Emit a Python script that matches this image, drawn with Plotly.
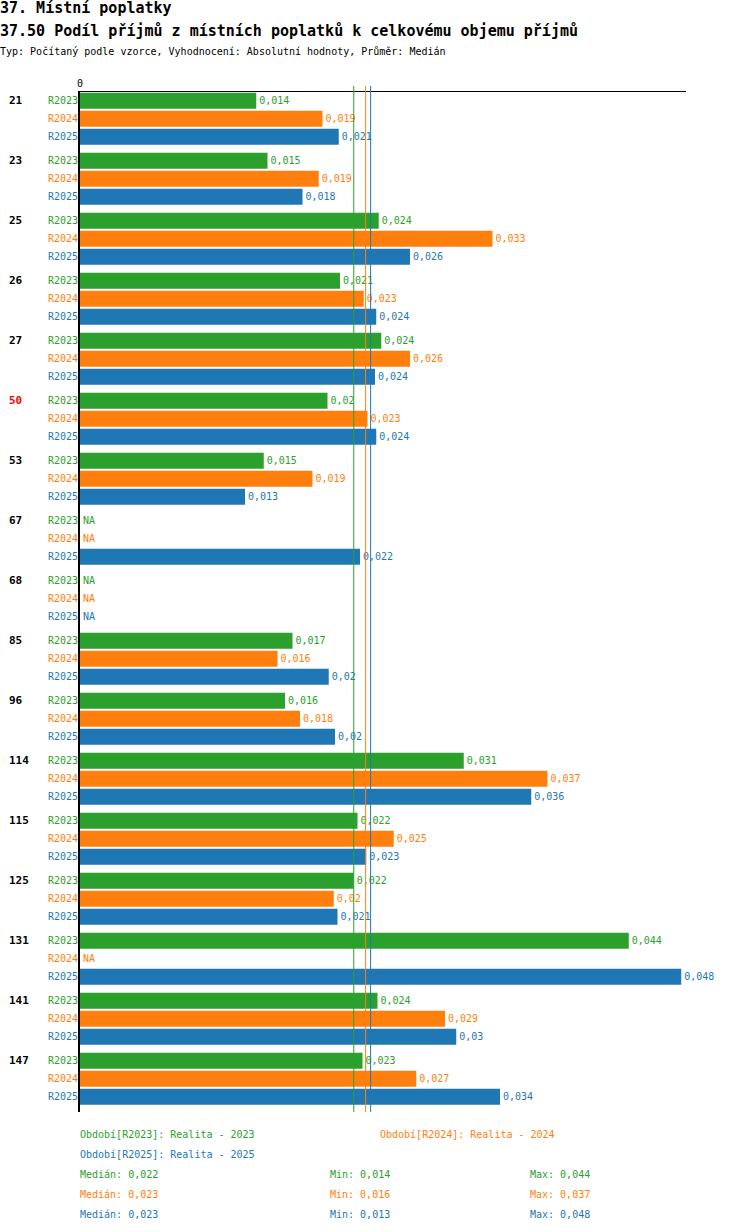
import statistics
import plotly.graph_objects as go

# ---------------- data ----------------
categories = ["21", "23", "25", "26", "27", "50", "53", "67", "68", "85",
              "96", "114", "115", "125", "131", "141", "147"]
highlight_category = "50"
series_names = ["R2023", "R2024", "R2025"]
series_legend = ["Období[R2023]: Realita - 2023",
                 "Období[R2024]: Realita - 2024",
                 "Období[R2025]: Realita - 2025"]
r2023 = [0.0141, 0.0150, 0.0239, 0.0208, 0.0241, 0.0198, 0.0147, None, None,
         0.0170, 0.0164, 0.0307, 0.0222, 0.0219, 0.0439, 0.0238, 0.0226]
r2024 = [0.0194, 0.0191, 0.0330, 0.0227, 0.0264, 0.0230, 0.0186, None, None,
         0.0158, 0.0176, 0.0374, 0.0251, 0.0203, None, 0.0292, 0.0269]
r2025 = [0.0207, 0.0178, 0.0264, 0.0237, 0.0236, 0.0237, 0.0132, 0.0224, None,
         0.0199, 0.0204, 0.0361, 0.0229, 0.0206, 0.0481, 0.0301, 0.0336]
title_1 = "37. Místní poplatky"
title_2 = "37.50 Podíl příjmů z místních poplatků k celkovému objemu příjmů"
subtitle = "Typ: Počítaný podle vzorce, Vyhodnocení: Absolutní hodnoty, Průměr: Medián"

# ---------------- style ----------------
colors = ["#2ca02c", "#ff7f0e", "#1f77b4"]
FONT = "DejaVu Sans Mono"
W, H = 750, 1232
ML, MR, MT, MB = 80, 64, 92, 120
X_MAX = 0.04848
PAD = 2  # annotation box padding


def fmt(v):
    if v is None:
        return "NA"
    s = f"{v:.3f}".rstrip("0").rstrip(".")
    return s.replace(".", ",")


series = [r2023, r2024, r2025]

fig = go.Figure()
for name, vals, col in zip(series_names, series, colors):
    fig.add_trace(go.Bar(
        name=name,
        y=categories,
        x=[0 if v is None else v for v in vals],
        orientation="h",
        marker=dict(color=col, line=dict(width=0)),
        text=[fmt(v) for v in vals],
        textposition="outside",
        textfont=dict(family=FONT, size=10, color=col),
        cliponaxis=False,
        showlegend=False,
        hoverinfo="skip",
    ))

shapes = []
for vals, col in zip(series, colors):
    med = statistics.median([v for v in vals if v is not None])
    shapes.append(dict(type="line", xref="x", yref="paper", x0=med, x1=med,
                       y0=0, y1=1 + 6 / (H - MT - MB),
                       line=dict(color=col, width=1), layer="above"))

ann = []


def px_ann(text, px, py, size=10, color="black", bold=False):
    if bold:
        text = f"<b>{text}</b>"
    ann.append(dict(text=text, xref="paper", yref="paper", x=0, y=1,
                    xshift=px - ML - PAD, yshift=MT - py, xanchor="left",
                    yanchor="middle", showarrow=False,
                    font=dict(family=FONT, size=size, color=color)))


px_ann(title_1, 0, 8, size=15, bold=True)
px_ann(title_2, 0, 30.5, size=15, bold=True)
px_ann(subtitle, 0, 51.5, size=10)

offsets = [18, 0, -18]
for i, cat in enumerate(categories):
    ann.append(dict(text=f"<b>{cat}</b>", xref="paper", yref="y", x=0, y=i,
                    xshift=9 - ML - PAD, yshift=offsets[0], xanchor="left",
                    yanchor="middle", showarrow=False,
                    font=dict(family=FONT, size=11,
                              color="#ff0000" if cat == highlight_category else "black")))
    for name, col, off in zip(series_names, colors, offsets):
        ann.append(dict(text=name, xref="paper", yref="y", x=0, y=i,
                        xshift=-2 + PAD, yshift=off, xanchor="right",
                        yanchor="middle", showarrow=False,
                        font=dict(family=FONT, size=10, color=col)))

# footer legend
px_ann(series_legend[0], 80, 1134, color=colors[0])
px_ann(series_legend[1], 380, 1134, color=colors[1])
px_ann(series_legend[2], 80, 1154, color=colors[2])
for i, (vals, col) in enumerate(zip(series, colors)):
    vv = [v for v in vals if v is not None]
    py = 1174 + 20 * i
    px_ann("Medián: " + fmt(statistics.median(vv)), 80, py, color=col)
    px_ann("Min: " + fmt(min(vv)), 330, py, color=col)
    px_ann("Max: " + fmt(max(vv)), 530, py, color=col)

fig.update_layout(
    width=W, height=H,
    margin=dict(l=ML, r=MR, t=MT, b=MB, pad=0),
    paper_bgcolor="white", plot_bgcolor="white",
    barmode="group", bargap=0.1, bargroupgap=0.111,
    font=dict(family=FONT, size=10, color="black"),
    hovermode=False,
    xaxis=dict(side="top", range=[0, X_MAX], showline=True, linecolor="black",
               linewidth=1, showgrid=False, zeroline=False, tickvals=[0],
               ticktext=["0"], ticks="", tickfont=dict(family=FONT, size=10)),
    yaxis=dict(type="category", categoryorder="array", categoryarray=categories,
               range=[len(categories) - 0.445, -0.445], showline=True,
               linecolor="black", linewidth=2, showgrid=False,
               showticklabels=False, ticks="", zeroline=False),
    shapes=shapes,
    annotations=ann,
)

fig.write_html("out.html", config={"displayModeBar": False},
               post_script="document.body.style.margin='0';")
